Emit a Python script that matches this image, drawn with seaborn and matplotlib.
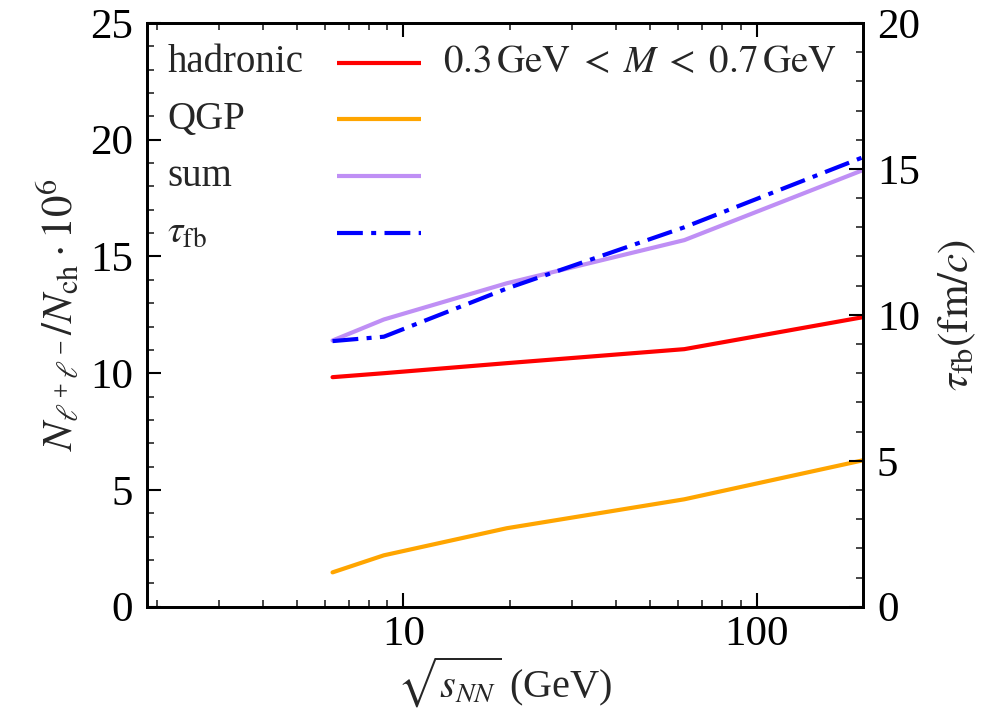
import numpy as np
import pandas as pd
import seaborn as sns
import matplotlib.pyplot as plt
from matplotlib.ticker import FixedLocator, NullFormatter, MultipleLocator

# collision energies sqrt(s_NN) in GeV
energies = [6.3, 8.8, 19.6, 62.4, 200.0]
# dilepton yield per charged particle (x 1e6), 0.3 GeV < M < 0.7 GeV
hadronic = [9.83, 10.0, 10.43, 11.03, 12.4]
qgp = [1.47, 2.2, 3.36, 4.6, 6.27]
total = [11.4, 12.3, 13.85, 15.7, 18.7]
# fireball lifetime in fm/c
tau_fb = [9.1, 9.25, 10.9, 13.0, 15.4]

sns.set_theme(style="ticks")
plt.rcParams["font.family"] = ["Liberation Serif", "DejaVu Serif"]
plt.rcParams["mathtext.fontset"] = "stix"

FS = 28
TFS = 31
fig = plt.figure(figsize=(9.96, 7.11), dpi=100)
ax = fig.add_axes([0.1476, 0.1467, 0.7189, 0.8210])
ax2 = ax.twinx()

df = pd.DataFrame({"E": energies, "had": hadronic, "qgp": qgp,
                   "sum": total, "tau": tau_fb})

lw = 3.0
sns.lineplot(data=df, x="E", y="had", ax=ax, color="#ff0000", lw=lw)
sns.lineplot(data=df, x="E", y="qgp", ax=ax, color="#ffa500", lw=lw)
sns.lineplot(data=df, x="E", y="sum", ax=ax, color="#bf8ff5", lw=lw)
sns.lineplot(data=df, x="E", y="tau", ax=ax2, color="#0000ff", lw=lw)
dash = (6.2, 2.0, 1.2, 2.0)
ax2.lines[0].set_dashes(dash)
ax2.lines[0].set_solid_capstyle("butt")

ax.set_xscale("log")
ax.set_xlim(1.88, 200)
ax.set_ylim(0, 25)
ax2.set_ylim(0, 20)

ax.xaxis.set_major_locator(FixedLocator([10, 100]))
ax.xaxis.set_minor_locator(FixedLocator(
    [m * d for d in (1, 10) for m in range(2, 10)]))
ax.xaxis.set_minor_formatter(NullFormatter())
ax.set_xticklabels(["10", "100"])
ax.yaxis.set_major_locator(MultipleLocator(5))
ax.yaxis.set_minor_locator(MultipleLocator(1))
ax2.yaxis.set_major_locator(MultipleLocator(5))
ax2.yaxis.set_minor_locator(MultipleLocator(1))

for a in (ax, ax2):
    for s in a.spines.values():
        s.set_linewidth(2.0)
        s.set_color("black")
    a.tick_params(which="major", direction="in", length=10, width=1.5,
                  labelsize=TFS, colors="black", pad=10)
    a.tick_params(which="minor", direction="in", length=5, width=1.2)
ax.tick_params(which="both", top=True, right=False)
ax.tick_params(axis="x", which="major", pad=6)

ax.set_xlabel(r"$\sqrt{s_{NN}}$ (GeV)", fontsize=29)
ax.xaxis.set_label_coords(0.5, -0.083)
ax.set_ylabel(r"$N_{\ell^+\ell^-}/N_{\rm ch}\cdot 10^6$", fontsize=TFS,
              labelpad=6)
ax2.set_ylabel(r"$\tau_{\rm fb}({\rm fm}/c)$", fontsize=TFS, labelpad=12)

# legend: labels on the left, line keys on the right
entries = [("hadronic", "#ff0000", None), ("QGP", "#ffa500", None),
           ("sum", "#bf8ff5", None), (r"$\tau_{\rm fb}$", "#0000ff", dash)]
y0, dy = 0.9155, 0.0972
for i, (lab, col, ds) in enumerate(entries):
    yb = y0 - i * dy
    ax.text(0.0285, yb, lab, transform=ax.transAxes, fontsize=FS,
            ha="left", va="baseline")
    ln, = ax.plot([0.265, 0.382], [yb + 0.0165, yb + 0.0165],
                  transform=ax.transAxes, color=col, lw=lw,
                  solid_capstyle="butt", clip_on=False)
    if ds is not None:
        ln.set_dashes(ds)
ax.text(0.413, y0,
        r"$0.3\,\mathrm{GeV}\;<\;M\;<\;0.7\,\mathrm{GeV}$",
        transform=ax.transAxes, fontsize=FS, ha="left", va="baseline")

fig.savefig("out.png", dpi=100)
